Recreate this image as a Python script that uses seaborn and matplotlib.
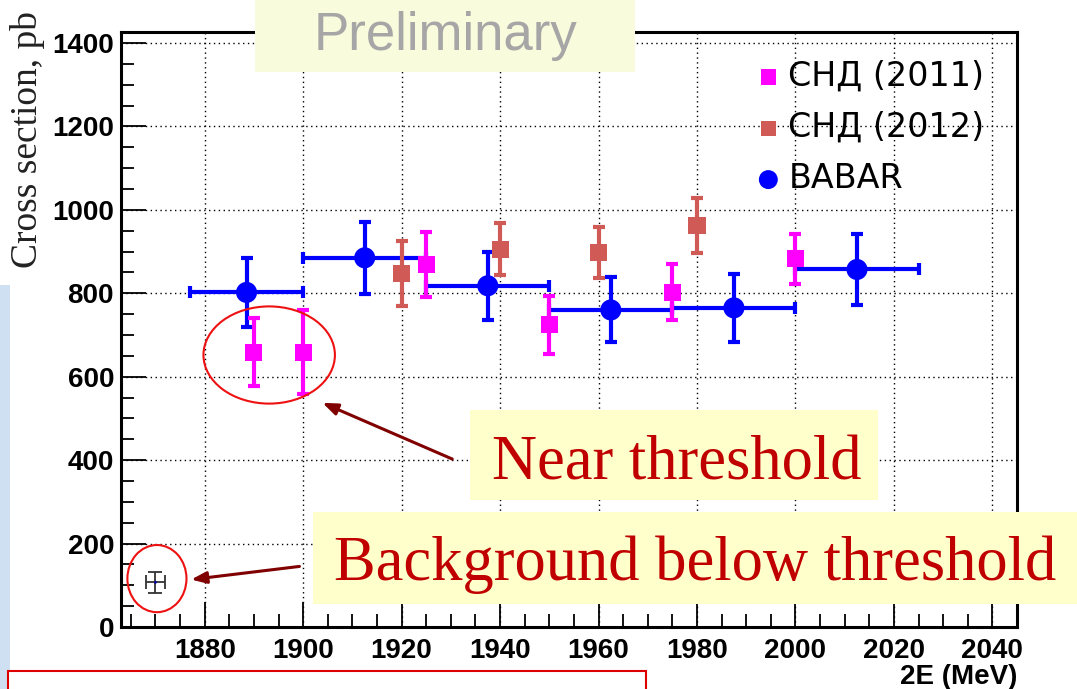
import numpy as np
import matplotlib
matplotlib.use("Agg")
import matplotlib.pyplot as plt
import seaborn as sns
from matplotlib.patches import Rectangle, Ellipse
from matplotlib.ticker import MultipleLocator

# ---- data ----
snd11_E = [1890, 1900, 1925, 1950, 1975, 2000]
snd11_sigma = [659, 659, 870, 724, 803, 883]
snd11_err = [82, 100, 78, 70, 67, 60]

snd12_E = [1920, 1940, 1960, 1980]
snd12_sigma = [848, 906, 898, 962]
snd12_err = [78, 62, 62, 66]

babar_E = [1888.5, 1912.5, 1937.5, 1962.5, 1987.5, 2012.5]
babar_Ehalf = [11.5, 12.5, 12.5, 12.5, 12.5, 12.5]
babar_sigma = [802, 885, 818, 760, 765, 857]
babar_err = [83, 86, 82, 78, 82, 86]

bg_E = [1870]
bg_Eerr = [2]
bg_sigma = [107]
bg_err = [26]

x_ticks = [1880, 1900, 1920, 1940, 1960, 1980, 2000, 2020, 2040]
y_ticks = [0, 200, 400, 600, 800, 1000, 1200, 1400]

sns.set_style("white")
plt.rcParams['font.family'] = ['DejaVu Sans']
plt.rcParams['text.color'] = 'black'

W, H = 1077, 689
fig = plt.figure(figsize=(W / 100, H / 100), dpi=100)
fig.patch.set_facecolor('white')

def fx(px):
    return px / W

def fy(py):
    return 1 - py / H

ax = fig.add_axes([fx(121), fy(627), fx(1017) - fx(121), fy(31.7) - fy(627)])
ax.set_xlim(1863, 2045)
ax.set_ylim(0, 1427)

# grid
ax.set_xticks(x_ticks)
ax.set_yticks(y_ticks)
ax.xaxis.set_minor_locator(MultipleLocator(5))
ax.yaxis.set_minor_locator(MultipleLocator(50))
ax.grid(True, which='major', color='black', linestyle=(0, (1, 2.5)), linewidth=1.0)

for s in ax.spines.values():
    s.set_linewidth(2.2)
    s.set_color('black')
ax.tick_params(axis='both', which='major', direction='in', length=18, width=1.3,
               colors='black', bottom=True, left=True, top=False, right=False)
ax.tick_params(axis='both', which='minor', direction='in', length=9.5, width=1.3,
               colors='black', bottom=True, left=True, top=False, right=False)
ax.tick_params(axis='x', which='major', pad=8)
ax.tick_params(axis='y', which='major', pad=5)
for lab in ax.get_xticklabels() + ax.get_yticklabels():
    lab.set_fontfamily('Liberation Sans')
    lab.set_fontweight('bold')
    lab.set_fontsize(20)
    lab.set_color('black')

# BABAR
ax.errorbar(babar_E, babar_sigma, xerr=babar_Ehalf, yerr=babar_err, fmt='none',
            ecolor='#0000ff', elinewidth=3, capsize=4, capthick=3, zorder=3)
sns.scatterplot(x=babar_E, y=babar_sigma, marker='o', color='#0000ff', s=230,
                edgecolor='none', ax=ax, zorder=4, label='BABAR')

# SND 2012
ax.errorbar(snd12_E, snd12_sigma, yerr=snd12_err, fmt='none',
            ecolor='#d05a55', elinewidth=3, capsize=4, capthick=3, zorder=5)
sns.scatterplot(x=snd12_E, y=snd12_sigma, marker='s', color='#d05a55', s=150,
                edgecolor='none', ax=ax, zorder=6, label='СНД (2012)')

# SND 2011
ax.errorbar(snd11_E, snd11_sigma, yerr=snd11_err, fmt='none',
            ecolor='#ff00ff', elinewidth=3, capsize=4, capthick=3, zorder=7)
sns.scatterplot(x=snd11_E, y=snd11_sigma, marker='s', color='#ff00ff', s=150,
                edgecolor='none', ax=ax, zorder=8, label='СНД (2011)')

# background point
ax.errorbar(bg_E, bg_sigma, xerr=bg_Eerr, yerr=bg_err, fmt='none',
            ecolor='#333333', elinewidth=1.3, capsize=5, capthick=1.3, zorder=5)
sns.scatterplot(x=bg_E, y=bg_sigma, marker='o', color='#0000aa', s=4,
                edgecolor='none', ax=ax, zorder=6)

ax.set_xlabel('2E (MeV)', loc='right', fontsize=20, fontweight='bold',
              fontfamily='Liberation Sans', labelpad=0, color='black')
ax.set_ylabel('')

# legend
handles, labels = ax.get_legend_handles_labels()
order = [labels.index('СНД (2011)'), labels.index('СНД (2012)'), labels.index('BABAR')]
leg = ax.legend([handles[i] for i in order], [labels[i] for i in order],
                loc='upper left', bbox_to_anchor=(fx(735), fy(43)),
                bbox_transform=fig.transFigure, frameon=False, fontsize=24,
                handletextpad=0.1, labelspacing=0.55, borderpad=0,
                handlelength=1.0, markerscale=0.9)
for t in leg.get_texts():
    t.set_color('black')

# annotations on the plot
ax.add_patch(Ellipse((1893.1, 652), 26.7, 233, fill=False, edgecolor='#ee1111',
                     linewidth=1.5, zorder=9))
ax.add_patch(Ellipse((1870.3, 116), 12.0, 161, fill=False, edgecolor='#ee1111',
                     linewidth=1.5, zorder=9))
ax.annotate('', xy=(1903.4, 540), xytext=(1930.8, 400),
            arrowprops=dict(arrowstyle='-|>,head_length=0.9,head_width=0.35',
                            color='#800000', lw=2.2), zorder=10)
ax.annotate('', xy=(1876.7, 113), xytext=(1899.8, 146),
            arrowprops=dict(arrowstyle='-|>,head_length=0.9,head_width=0.35',
                            color='#800000', lw=2.2), zorder=10)

# slide decorations
fig.patches.append(Rectangle((0, fy(689)), fx(10), fy(285) - fy(689),
                             transform=fig.transFigure, facecolor='#cfe0f2',
                             edgecolor='none', zorder=0))
fig.patches.append(Rectangle((fx(8), fy(700)), fx(646) - fx(8), fy(671) - fy(700),
                             transform=fig.transFigure, facecolor='white',
                             edgecolor='#dd0000', linewidth=1.5, zorder=20))

# yellow text boxes
fig.patches.append(Rectangle((fx(255), fy(72)), fx(635) - fx(255), fy(0) - fy(72),
                             transform=fig.transFigure, facecolor='#f8fbdc',
                             edgecolor='none', zorder=20))
fig.text(fx(446), fy(50), 'Preliminary', ha='center', va='baseline', fontsize=38,
         color='#a6a6a6', fontfamily='Liberation Sans', zorder=21)

fig.patches.append(Rectangle((fx(470), fy(500)), fx(878) - fx(470), fy(410) - fy(500),
                             transform=fig.transFigure, facecolor='#ffffcc',
                             edgecolor='none', zorder=20))
fig.text(fx(677), fy(479), 'Near threshold', ha='center', va='baseline', fontsize=45,
         color='#c00000', fontfamily='Liberation Serif', zorder=21)

fig.patches.append(Rectangle((fx(313), fy(604)), fx(1077) - fx(313), fy(512) - fy(604),
                             transform=fig.transFigure, facecolor='#ffffcc',
                             edgecolor='none', zorder=20))
fig.text(fx(695), fy(580), 'Background below threshold', ha='center', va='baseline',
         fontsize=45, color='#c00000', fontfamily='Liberation Serif', zorder=21)

fig.text(fx(28), fy(139), 'Cross section, pb', rotation=90, ha='center', va='center',
         fontsize=27, fontfamily='Liberation Serif', color='#222222')

fig.savefig('out.png', dpi=100)
